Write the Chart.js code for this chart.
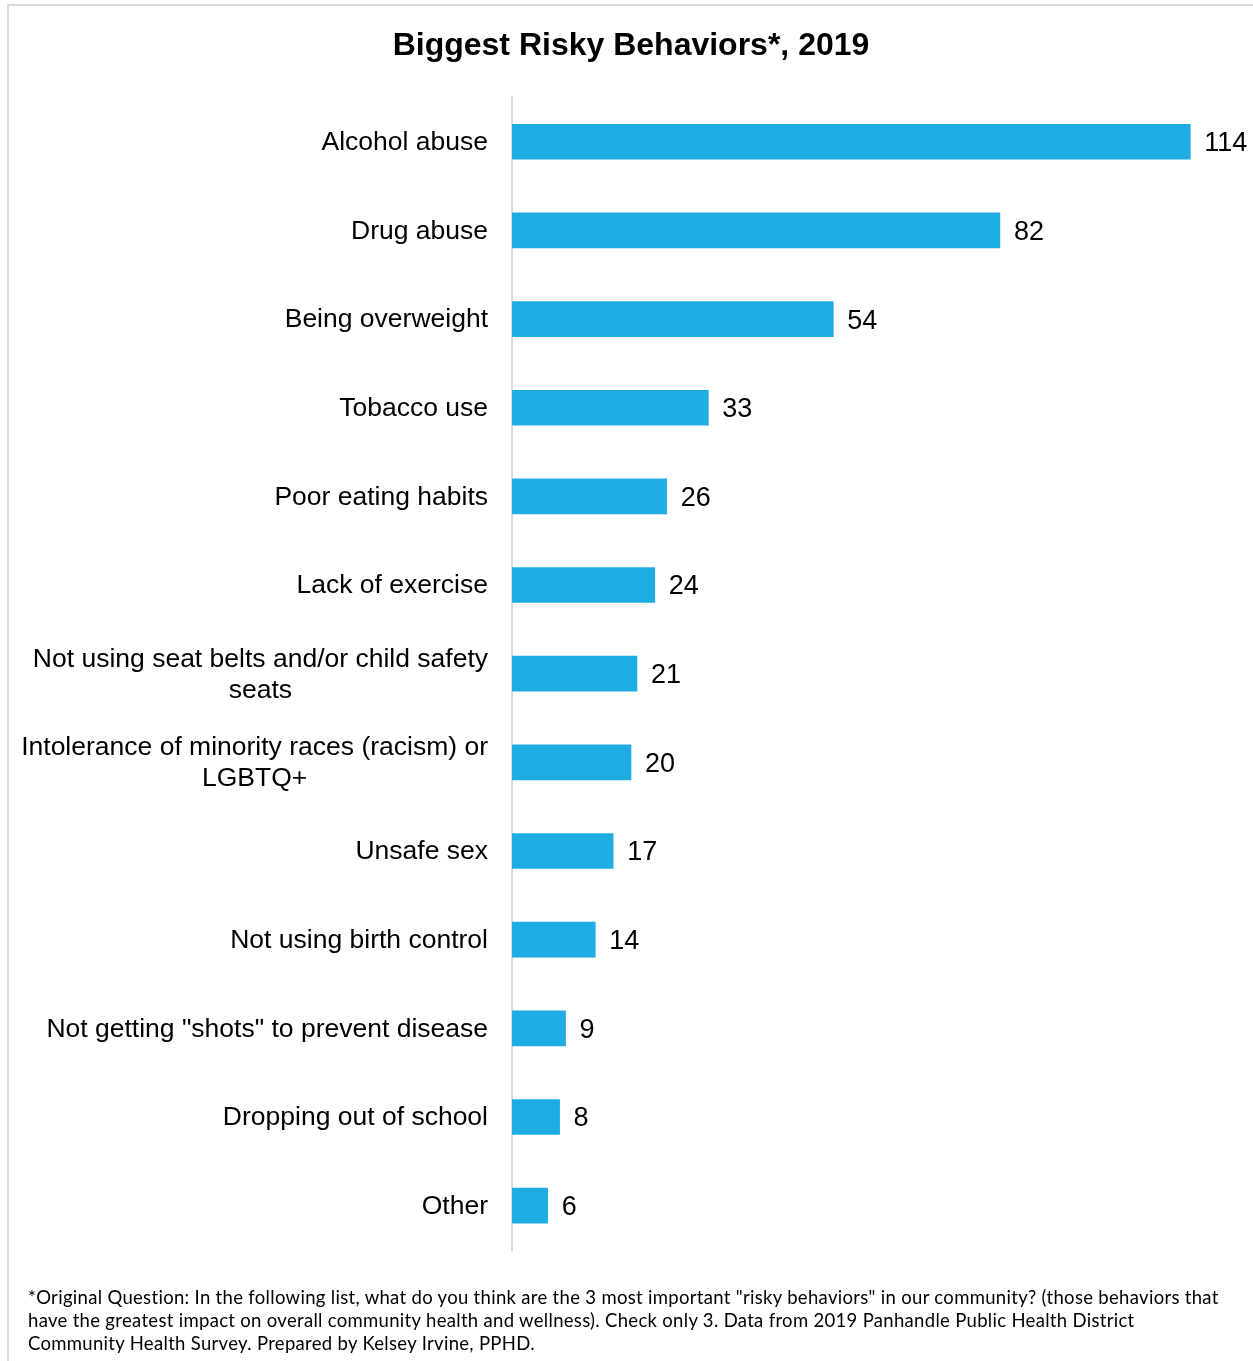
<!DOCTYPE html>
<html>
<head>
<meta charset="utf-8">
<title>Biggest Risky Behaviors, 2019</title>
<script src="https://cdn.jsdelivr.net/npm/chart.js@4/dist/chart.umd.min.js"></script>
<style>
    html, body { margin: 0; padding: 0; background: #ffffff; }
    #wrap { position: relative; width: 1253px; height: 1361px; overflow: hidden; }
    #frame {
        position: absolute; left: 7px; top: 4px; right: 0; bottom: -10px;
        border-top: 2px solid #d9d9d9; border-left: 2px solid #d9d9d9;
    }
    #chart { position: absolute; left: 0; top: 0; }
    #note {
        position: absolute; left: 28px; top: 1286px; width: 1225px;
        font-family: 'Lato', sans-serif; font-size: 18.5px; line-height: 23px;
        letter-spacing: 0.31px; color: #000000; white-space: nowrap;
    }
</style>
</head>
<body>
<div id="wrap">
    <div id="frame"></div>
    <canvas id="chart" width="1253" height="1361"></canvas>
    <div id="note">*Original Question: In the following list, what do you think are the 3 most important "risky behaviors" in our community? (those behaviors that<br>have the greatest impact on overall community health and wellness). Check only 3. Data from 2019 Panhandle Public Health District<br>Community Health Survey. Prepared by Kelsey Irvine, PPHD.</div>
</div>
<script>
// Dados do gráfico
const categories = [
    'Alcohol abuse',
    'Drug abuse',
    'Being overweight',
    'Tobacco use',
    'Poor eating habits',
    'Lack of exercise',
    ['Not using seat belts and/or child safety', 'seats'],
    ['Intolerance of minority races (racism) or', 'LGBTQ+'],
    'Unsafe sex',
    'Not using birth control',
    'Not getting "shots" to prevent disease',
    'Dropping out of school',
    'Other'
];
const counts = [114, 82, 54, 33, 26, 24, 21, 20, 17, 14, 9, 8, 6];
const axisMax = 120;

const barColor = '#1FACE3';
const fontFamily = '"Liberation Sans", Arial, sans-serif';

// Rótulos das categorias: bloco alinhado à direita, linhas centradas entre si
const categoryLabels = {
    id: 'categoryLabels',
    afterDraw(chart) {
        const ctx = chart.ctx;
        const yScale = chart.scales.y;
        const right = chart.chartArea.left - 24;
        const lineHeight = 31;
        ctx.save();
        ctx.font = `26.5px ${fontFamily}`;
        ctx.fillStyle = '#000000';
        ctx.textAlign = 'center';
        ctx.textBaseline = 'middle';
        categories.forEach((label, i) => {
            const lines = Array.isArray(label) ? label : [label];
            const widest = Math.max(...lines.map(l => ctx.measureText(l).width));
            const cx = right - widest / 2;
            const y0 = yScale.getPixelForTick(i) - (lines.length - 1) * lineHeight / 2;
            lines.forEach((line, j) => {
                ctx.fillText(line, cx, y0 + j * lineHeight + 1);
            });
        });
        ctx.restore();
    }
};

// Rótulos de valor à direita de cada barra
const valueLabels = {
    id: 'valueLabels',
    afterDatasetsDraw(chart) {
        const ctx = chart.ctx;
        const meta = chart.getDatasetMeta(0);
        ctx.save();
        ctx.font = `27px ${fontFamily}`;
        ctx.fillStyle = '#000000';
        ctx.textAlign = 'left';
        ctx.textBaseline = 'middle';
        meta.data.forEach((bar, i) => {
            ctx.fillText(String(counts[i]), bar.x + 14, bar.y + 2);
        });
        ctx.restore();
    }
};

const chart = new Chart(document.getElementById('chart'), {
    type: 'bar',
    data: {
        labels: categories,
        datasets: [{
            data: counts,
            backgroundColor: barColor,
            borderWidth: 0,
            barThickness: 35
        }]
    },
    options: {
        indexAxis: 'y',
        responsive: false,
        animation: false,
        layout: { padding: { top: 0, right: 27, bottom: 111, left: 36 } },
        plugins: {
            legend: { display: false },
            tooltip: { enabled: false },
            title: {
                display: true,
                text: 'Biggest Risky Behaviors*, 2019',
                color: '#000000',
                font: { family: fontFamily, size: 32, weight: 'bold' },
                padding: { top: 27, bottom: 32 }
            }
        },
        scales: {
            x: {
                display: false,
                min: 0,
                max: axisMax
            },
            y: {
                afterFit: (scale) => { scale.width = 476; },
                grid: { display: false, drawTicks: false },
                border: { display: true, color: '#d9d9d9', width: 2 },
                ticks: { display: false }
            }
        }
    },
    plugins: [categoryLabels, valueLabels]
});
</script>
</body>
</html>
